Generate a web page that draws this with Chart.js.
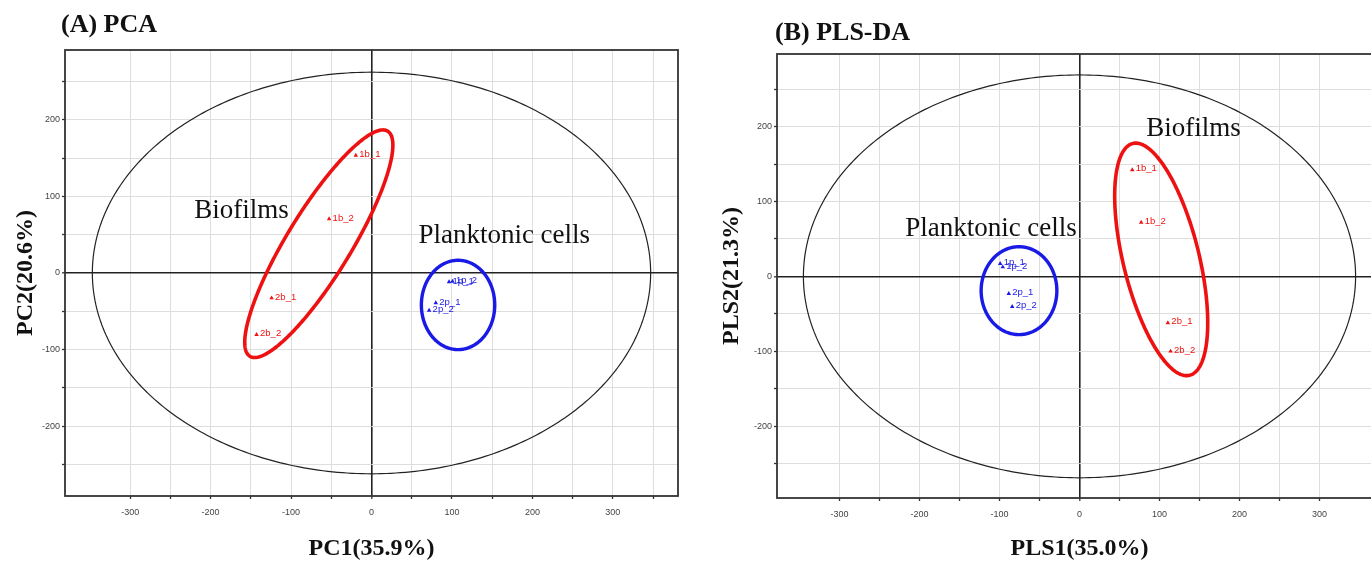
<!DOCTYPE html>
<html><head><meta charset="utf-8">
<script src="https://cdn.jsdelivr.net/npm/chart.js@4.4.1/dist/chart.umd.min.js"></script>
<style>
html,body{margin:0;padding:0;background:#fff;overflow:hidden;width:1371px;height:562px;position:relative;}
#wrapA{position:absolute;left:0;top:0;width:690px;height:562px;}
#wrapB{position:absolute;left:690px;top:0;width:720px;height:562px;}
.ptitle{position:absolute;font-family:'Liberation Serif','Times New Roman',serif;font-weight:bold;font-size:26px;line-height:26px;color:#111;white-space:nowrap;z-index:2;}
</style></head><body>
<div id="wrapA"><canvas id="pca" width="690" height="562"></canvas></div>
<div id="wrapB"><canvas id="pls" width="720" height="562"></canvas></div>
<div class="ptitle" style="left:61px;top:11px">(A) PCA</div>
<div class="ptitle" style="left:775px;top:19px">(B) PLS-DA</div>
<script>
// ---------- data ----------
const biofilmLabels = ['1b_1', '1b_2', '2b_1', '2b_2'];
const planktonLabels = ['1p_1', '1p_2', '2p_1', '2p_2'];

// (A) PCA scores
const pcaBiofilmX = [-19.5, -52.7, -124.2, -142.9];
const pcaBiofilmY = [153.4, 70.5, -32.6, -80.5];
const pcaPlanktonX = [96.4, 100.6, 79.9, 71.6];
const pcaPlanktonY = [-11.7, -11.0, -39.1, -48.8];

// (B) PLS-DA scores
const plsBiofilmX = [65.9, 77.1, 110.4, 113.8];
const plsBiofilmY = [142.3, 72.0, -62.1, -100.0];
const plsPlanktonX = [-99.1, -95.9, -88.4, -84.1];
const plsPlanktonY = [16.9, 12.5, -23.1, -40.4];

// ellipses: [Hotelling T2, Biofilms, Planktonic cells]; centre + two conjugate semi-axis vectors (data units)
const pcaEllCx = [0, -65.5, 107.6];
const pcaEllCy = [0, 38.2, -41.7];
const pcaEllUx = [347, 85.6, 45.6];
const pcaEllUy = [0, 146.9, 0];
const pcaEllVx = [0, 33.9, 0];
const pcaEllVy = [262, -21.8, 58.3];

const plsEllCx = [0, 102.1, -75.6];
const plsEllCy = [0, 22.7, -19.1];
const plsEllUx = [345, -35.4, 47.3];
const plsEllUy = [0, 154.8, 0];
const plsEllVx = [0, 46.1, 0];
const plsEllVy = [269, 12.0, 58.7];

// group annotations
const groupNames = ['Biofilms', 'Planktonic cells'];
const pcaGroupX = [-161.7, 165.0];
const pcaGroupY = [72.1, 39.5];
const plsGroupX = [142.5, -110.6];
const plsGroupY = [187.6, 54.3];

// axis ranges and titles
const pcaXRange = [-381, 381];
const pcaYRange = [-291, 291];
const plsXRange = [-378, 378];
const plsYRange = [-296, 297];
const pcaAxisTitles = ['PC1(35.9%)', 'PC2(20.6%)'];
const plsAxisTitles = ['PLS1(35.0%)', 'PLS2(21.3%)'];

// ---------- styles ----------
const RED = '#ee1111';
const BLUE = '#1a1ae6';
const ELL_COLORS = ['#222222', RED, BLUE];
const ELL_WIDTHS = [1.2, 3.6, 3.4];
const SERIF = "'Liberation Serif','Times New Roman',serif";
const SANS = "'Liberation Sans',Arial,sans-serif";

const overlay = {
  id: 'overlay',
  beforeDatasetsDraw(chart, args, o) {
    const {ctx, chartArea: a, scales: {x, y}} = chart;
    ctx.save();
    ctx.beginPath(); ctx.rect(a.left, a.top, a.right - a.left, a.bottom - a.top); ctx.clip();
    o.cx.forEach((cx, i) => {
      ctx.beginPath();
      for (let k = 0; k <= 360; k++) {
        const t = k * Math.PI / 180;
        const dx = cx + o.ux[i] * Math.cos(t) + o.vx[i] * Math.sin(t);
        const dy = o.cy[i] + o.uy[i] * Math.cos(t) + o.vy[i] * Math.sin(t);
        const px = x.getPixelForValue(dx), py = y.getPixelForValue(dy);
        if (k) ctx.lineTo(px, py); else ctx.moveTo(px, py);
      }
      ctx.closePath();
      ctx.strokeStyle = ELL_COLORS[i];
      ctx.lineWidth = ELL_WIDTHS[i];
      ctx.stroke();
    });
    ctx.restore();
  },
  afterDatasetsDraw(chart, args, o) {
    const {ctx, chartArea: a, scales: {x, y}} = chart;
    ctx.save();
    // point labels
    ctx.font = '9.5px ' + SANS;
    ctx.textBaseline = 'middle';
    ctx.textAlign = 'left';
    chart.data.datasets.forEach((ds, di) => {
      const meta = chart.getDatasetMeta(di);
      meta.data.forEach((pt, i) => {
        ctx.fillStyle = ds.backgroundColor;
        ctx.fillText(ds.pointLabels[i], pt.x + 3.5, pt.y - 1);
      });
    });
    // group names
    ctx.font = '27px ' + SERIF;
    ctx.fillStyle = '#111';
    ctx.textAlign = 'center';
    ctx.textBaseline = 'alphabetic';
    groupNames.forEach((g, i) => {
      ctx.fillText(g, x.getPixelForValue(o.gx[i]), y.getPixelForValue(o.gy[i]));
    });
    // frame
    ctx.strokeStyle = '#333';
    ctx.lineWidth = 1.8;
    ctx.strokeRect(a.left, a.top, a.right - a.left, a.bottom - a.top);
    ctx.restore();
  }
};

function gridColor(c) { return c.tick && c.tick.value === 0 ? '#222' : '#dedede'; }
function gridWidth(c) { return c.tick && c.tick.value === 0 ? 1.6 : 1; }
function keep50(s) { s.ticks = s.ticks.filter(t => Math.abs(t.value % 50) < 1e-9); }
function tickText(v) { return v % 100 === 0 ? String(v) : ''; }

function makeChart(id, p) {
  const pts = (xs, ys) => xs.map((v, i) => ({x: v, y: ys[i]}));
  return new Chart(document.getElementById(id), {
    type: 'scatter',
    data: {
      datasets: [
        {label: 'Biofilms', data: pts(p.bx, p.by), pointLabels: biofilmLabels,
         backgroundColor: RED, borderColor: RED, pointStyle: 'triangle', pointRadius: 2.6, borderWidth: 0},
        {label: 'Planktonic cells', data: pts(p.px, p.py), pointLabels: planktonLabels,
         backgroundColor: BLUE, borderColor: BLUE, pointStyle: 'triangle', pointRadius: 2.6, borderWidth: 0}
      ]
    },
    options: {
      responsive: false,
      animation: false,
      layout: {padding: p.pad},
      plugins: {
        legend: {display: false},
        tooltip: {enabled: false},
        overlay: {cx: p.ell[0], cy: p.ell[1], ux: p.ell[2], uy: p.ell[3], vx: p.ell[4], vy: p.ell[5], gx: p.gx, gy: p.gy}
      },
      scales: {
        x: {
          type: 'linear', position: 'bottom', min: p.xr[0], max: p.xr[1],
          afterBuildTicks: keep50,
          afterFit: s => { s.height = p.xh; },
          ticks: {stepSize: 50, autoSkip: false, maxRotation: 0, padding: 8, color: '#444',
                  font: {family: SANS, size: 9}, callback: tickText},
          grid: {color: gridColor, lineWidth: gridWidth, tickColor: '#333', tickWidth: 1.3, tickLength: 3},
          border: {display: false},
          title: {display: true, text: p.titles[0], color: '#111',
                  font: {family: SERIF, size: 24, weight: 'bold', lineHeight: 1}, padding: {top: 0, bottom: 1}}
        },
        y: {
          type: 'linear', position: 'left', min: p.yr[0], max: p.yr[1],
          afterBuildTicks: keep50,
          afterFit: s => { s.width = p.yw; },
          ticks: {stepSize: 50, autoSkip: false, padding: 2, color: '#444',
                  font: {family: SANS, size: 9}, callback: tickText},
          grid: {color: gridColor, lineWidth: gridWidth, tickColor: '#333', tickWidth: 1.3, tickLength: 3},
          border: {display: false},
          title: {display: true, text: p.titles[1], color: '#111',
                  font: {family: SERIF, size: 24, weight: 'bold', lineHeight: 1}, padding: {top: p.ytp, bottom: 0}}
        }
      }
    },
    plugins: [overlay]
  });
}

makeChart('pca', {
  bx: pcaBiofilmX, by: pcaBiofilmY, px: pcaPlanktonX, py: pcaPlanktonY,
  ell: [pcaEllCx, pcaEllCy, pcaEllUx, pcaEllUy, pcaEllVx, pcaEllVy],
  gx: pcaGroupX, gy: pcaGroupY, xr: pcaXRange, yr: pcaYRange, titles: pcaAxisTitles,
  pad: {left: 0, top: 50, right: 12, bottom: 0}, xh: 66, yw: 65, ytp: 14
});
makeChart('pls', {
  bx: plsBiofilmX, by: plsBiofilmY, px: plsPlanktonX, py: plsPlanktonY,
  ell: [plsEllCx, plsEllCy, plsEllUx, plsEllUy, plsEllVx, plsEllVy],
  gx: plsGroupX, gy: plsGroupY, xr: plsXRange, yr: plsYRange, titles: plsAxisTitles,
  pad: {left: 0, top: 54, right: 28, bottom: 0}, xh: 64, yw: 87, ytp: 30
});
</script>
</body></html>
